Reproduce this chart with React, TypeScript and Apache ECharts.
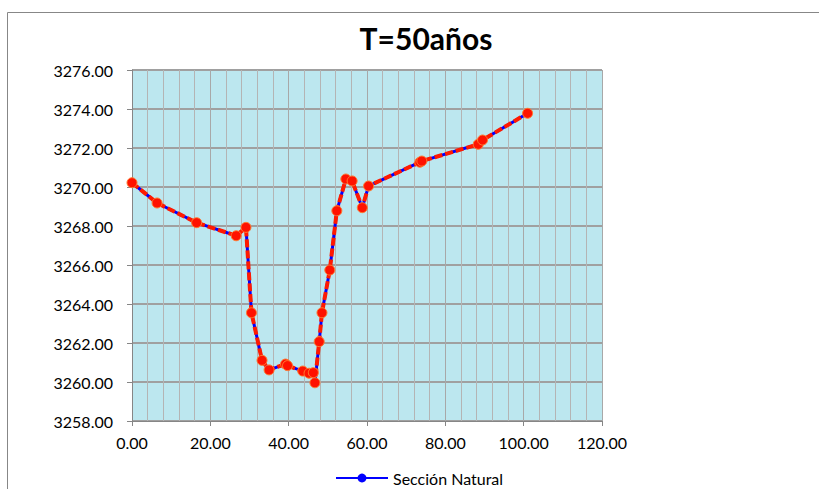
import React, { useEffect, useRef } from "react";
import * as echarts from "echarts";

const titleText = "T=50años";
const seriesName = "Sección Natural";
const distances = [0, 6.4, 16.5, 26.6, 29.1, 30.5, 33.2, 35.0, 39.2, 39.7, 43.6, 45.2, 46.3, 46.7, 47.8, 48.5, 50.5, 52.3, 54.6, 56.2, 58.8, 60.4, 73.5, 74.0, 88.4, 89.5, 101.0];
const elevations = [3270.22, 3269.18, 3268.17, 3267.5, 3267.93, 3263.55, 3261.11, 3260.62, 3260.92, 3260.84, 3260.56, 3260.45, 3260.48, 3259.96, 3262.07, 3263.55, 3265.74, 3268.78, 3270.41, 3270.31, 3268.94, 3270.05, 3271.27, 3271.33, 3272.19, 3272.41, 3273.78];
const xMin = 0, xMax = 120, xStep = 20;
const yMin = 3258, yMax = 3276, yStep = 2;

const FONT = "Lato, 'Open Sans', sans-serif";

export default function App() {
  const ref = useRef<HTMLDivElement>(null);
  useEffect(() => {
    document.body.style.margin = "0";
    const chart = echarts.init(ref.current!, null, { renderer: "svg" });
    const pts = distances.map((x, i) => [x, elevations[i]]);
    chart.setOption({
      animation: false,
      backgroundColor: "#ffffff",
      title: {
        text: titleText,
        left: 421,
        textAlign: "center",
        top: 18,
        textStyle: { fontFamily: FONT, fontWeight: "bold", fontSize: 30, color: "#000" },
      },
      graphic: [
        {
          type: "rect",
          shape: { x: 7.5, y: 12.5, width: 1000, height: 700 },
          style: { fill: "none", stroke: "#878787", lineWidth: 1 },
          silent: true,
          z: -10,
        },
      ],
      legend: {
        data: [seriesName],
        left: 330,
        top: 465,
        itemWidth: 52,
        itemHeight: 11,
        itemGap: 4,
        textStyle: { fontFamily: FONT, fontSize: 16, color: "#000" },
      },
      grid: {
        left: 132,
        top: 70,
        right: 217,
        bottom: 68,
        show: true,
        backgroundColor: "#bce7ef",
        borderWidth: 0,
      },
      xAxis: {
        type: "value",
        min: xMin,
        max: xMax,
        interval: xStep,
        axisLine: { show: true, lineStyle: { color: "#868686", width: 1 } },
        axisTick: { show: true, length: 5, lineStyle: { color: "#868686" } },
        axisLabel: {
          margin: 13,
          formatter: (v: number) => v.toFixed(2),
          fontFamily: FONT,
          fontSize: 16,
          color: "#000",
        },
        splitLine: { show: true, lineStyle: { color: "#a8a8a8", width: 1 } },
        minorTick: { show: false, splitNumber: 5 },
        minorSplitLine: { show: true, lineStyle: { color: "#b4b4b4", width: 1 } },
      },
      yAxis: {
        type: "value",
        min: yMin,
        max: yMax,
        interval: yStep,
        axisLine: { show: true, lineStyle: { color: "#868686", width: 1 } },
        axisTick: { show: true, length: 5, lineStyle: { color: "#868686" } },
        axisLabel: {
          margin: 19,
          formatter: (v: number) => v.toFixed(2),
          fontFamily: FONT,
          fontSize: 16,
          color: "#000",
        },
        splitLine: { show: true, lineStyle: { color: "#a0a0a0", width: 2 } },
      },
      series: [
        {
          name: seriesName,
          type: "line",
          data: pts,
          symbol: "circle",
          symbolSize: 8,
          itemStyle: { color: "#0000ff" },
          lineStyle: { color: "#0000ff", width: 3 },
          z: 2,
        },
        {
          name: "marks",
          type: "line",
          data: pts,
          symbol: "circle",
          symbolSize: 10,
          itemStyle: { color: "#ff1200", borderColor: "#ff7a30", borderWidth: 1 },
          lineStyle: { color: "#ff1a00", width: 4, type: [8, 3] },
          z: 3,
        },
      ],
    });
    return () => chart.dispose();
  }, []);
  return (
    <div
      ref={ref}
      style={{ position: "absolute", left: 0, top: 0, width: 819, height: 489 }}
    />
  );
}
